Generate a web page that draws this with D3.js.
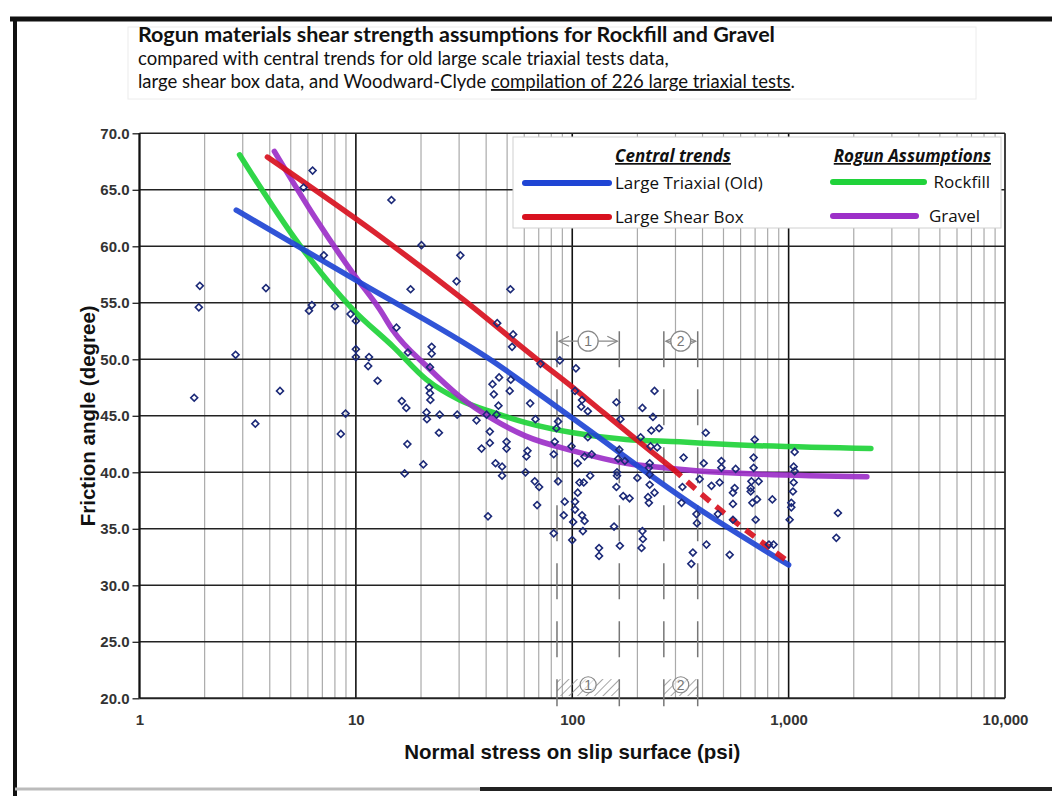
<!DOCTYPE html>
<html>
<head>
<meta charset="utf-8">
<title>Rogun shear strength</title>
<script src="https://d3js.org/d3.v7.min.js"></script>
<style>
  body { margin: 0; background: #fff; }
  svg { display: block; }
  .axis-title { font-family: "Liberation Sans", Arial, sans-serif; font-weight: bold; font-size: 20.5px; fill: #111; }
  .title { font-family: Lato, "Open Sans", sans-serif; fill: #111; }
  .legend-text { font-family: "Open Sans", sans-serif; font-size: 17px; fill: #111; }
  .legend-head { font-family: "Open Sans", sans-serif; font-size: 17px; font-weight: bold; font-style: italic; fill: #111; text-decoration: underline; }
  .zone { font-family: "Liberation Sans", Arial, sans-serif; font-size: 14px; fill: #777; }
</style>
</head>
<body>
<div id="chart"></div>
<script>

var xTicks = [1, 10, 100, 1000, 10000];
var yTicks = [20, 25, 30, 35, 40, 45, 50, 55, 60, 65, 70];

// central trends and assumed envelopes [normal stress psi, friction angle deg]
var triaxialOld = [[2.8, 63.2], [10, 57.0], [41.6, 50.0], [100, 44.8], [349, 37.3], [1000, 31.8]];
var shearBox = [[3.9, 67.9], [12.9, 60.9], [31.3, 55.3], [70.8, 49.8], [100.8, 47.5], [139, 45.3], [198, 42.9], [292, 40.3]];
var shearBoxExtended = [[292, 40.3], [388, 38.2], [1010, 32.0]];
var rockfill = [[2.9, 68.1], [5.5, 60.1], [9.7, 54.4], [14.9, 51.1], [21.2, 48.2], [30.2, 46.4], [43, 45.3], [61, 44.4],
  [101, 43.5], [177, 42.9], [313, 42.7], [478, 42.5], [2400, 42.1]];
var gravel = [[4.2, 68.4], [6.6, 62.3], [9.7, 57.6], [12.9, 54.4], [14.9, 52.5], [21.2, 49.4], [30.2, 46.7], [43, 44.7],
  [61, 43.2], [101, 41.9], [177, 40.8], [303, 40.3], [478, 40.0], [2300, 39.6]];

// large triaxial test results
var tests = [
  [1.90, 56.5], [1.88, 54.6], [1.79, 46.6], [2.78, 50.4], [3.84, 56.3], [4.46, 47.2], [6.31, 66.7], [5.73, 65.2], [7.11, 59.2], [6.07, 54.3],
  [6.26, 54.8], [8.00, 54.7], [9.45, 54.0], [10.0, 53.4], [10.0, 50.9], [10.0, 50.2], [11.5, 50.2], [11.4, 49.4], [12.6, 48.1], [8.96, 45.2],
  [3.43, 44.3], [8.52, 43.4], [14.6, 64.1], [20.1, 60.1], [30.4, 59.2], [29.2, 56.9], [17.9, 56.2], [51.8, 56.2], [15.4, 52.8], [17.4, 50.6],
  [22.4, 51.1], [22.4, 50.5], [22.0, 49.3], [45.0, 53.2], [53.3, 52.2], [52.7, 51.1], [71.3, 49.6], [21.8, 47.5], [22.0, 47.0], [22.1, 46.4],
  [16.3, 46.3], [17.1, 45.7], [21.2, 45.3], [21.3, 44.7], [24.4, 45.1], [29.4, 45.1], [24.2, 43.5], [36.1, 44.6], [40.2, 45.1], [44.7, 45.1],
  [42.8, 47.8], [43.4, 46.9], [45.9, 48.4], [52.0, 48.2], [51.4, 47.2], [45.6, 45.9], [63.9, 46.1], [67.6, 44.7], [41.6, 43.6], [41.6, 42.6],
  [38.1, 42.1], [49.7, 42.7], [49.7, 42.1], [62.1, 41.9], [61.4, 41.4], [17.3, 42.5], [20.5, 40.7], [16.8, 39.9], [44.2, 40.8], [47.4, 40.5],
  [47.4, 39.7], [60.8, 40.0], [67.1, 39.2], [70.3, 38.7], [68.8, 37.1], [40.8, 36.1], [87.6, 49.9], [104, 49.2], [103, 47.2], [111, 46.4],
  [110, 45.8], [118, 45.4], [86.0, 44.5], [84.5, 43.9], [83.0, 42.7], [82.1, 41.6], [99.2, 42.3], [118, 43.1], [123, 41.6], [114, 41.4],
  [106, 40.8], [160, 46.2], [167, 44.7], [165, 42.0], [163, 41.2], [175, 41.0], [161, 40.0], [161, 39.7], [160, 38.7], [172, 37.9],
  [184, 37.7], [200, 39.5], [211, 45.7], [207, 43.1], [240, 47.2], [236, 44.9], [232, 43.7], [252, 43.9], [230, 42.3], [247, 42.2],
  [228, 40.8], [226, 40.4], [228, 39.8], [228, 38.9], [240, 38.2], [224, 37.8], [226, 37.3], [327, 41.3], [323, 38.7], [320, 37.3],
  [86.0, 39.2], [108, 39.1], [113, 39.1], [121, 39.7], [106, 38.2], [92.3, 37.4], [103, 37.4], [103, 36.7], [91.3, 36.2], [111, 36.2],
  [114, 35.7], [101, 35.6], [112, 34.8], [82.1, 34.6], [100, 34.0], [156, 35.2], [166, 33.5], [133, 33.3], [133, 32.6], [211, 34.8],
  [212, 34.1], [209, 33.3], [414, 43.5], [697, 42.9], [1066, 41.8], [405, 40.8], [489, 41.0], [489, 40.4], [569, 40.3], [689, 41.3],
  [689, 40.4], [1055, 40.5], [1066, 40.1], [388, 39.4], [480, 39.1], [673, 39.2], [727, 39.2], [1055, 39.1], [440, 38.8], [563, 38.6],
  [553, 38.2], [668, 38.6], [668, 38.3], [1047, 38.3], [553, 37.2], [714, 37.6], [680, 37.3], [841, 37.6], [1029, 37.3], [1029, 36.9],
  [375, 36.3], [377, 35.5], [471, 36.3], [553, 35.8], [704, 35.8], [1011, 35.8], [1690, 36.4], [417, 33.6], [361, 32.9], [355, 31.9],
  [534, 32.7], [811, 33.6], [852, 33.6], [1661, 34.2]
];

// stress ranges marked on the chart
var zones = [{label: "1", from: 85, to: 165}, {label: "2", from: 265, to: 380}];
var zoneBracketAngle = 51.6;

var width = 1052, height = 796;
var margin = {top: 133.3, right: 47, bottom: 97, left: 139.5};

var svg = d3.select("#chart").append("svg")
  .attr("width", width)
  .attr("height", height);

var defs = svg.append("defs");
var hatch = defs.append("pattern")
  .attr("id", "hatch")
  .attr("width", 6).attr("height", 6)
  .attr("patternUnits", "userSpaceOnUse")
  .attr("patternTransform", "rotate(45)");
hatch.append("line")
  .attr("x1", 0).attr("y1", 0).attr("x2", 0).attr("y2", 6)
  .attr("stroke", "#888").attr("stroke-width", 1.5);

// title block
svg.append("rect").attr("x", 128).attr("y", 27).attr("width", 848).attr("height", 72)
  .attr("fill", "#fff").attr("stroke", "#ececec");
svg.append("text").attr("class", "title").attr("x", 138).attr("y", 42)
  .style("font-size", "21.5px").style("font-weight", "bold")
  .text("Rogun materials shear strength assumptions for Rockfill and Gravel");
svg.append("text").attr("class", "title").attr("x", 138).attr("y", 65)
  .style("font-size", "18.5px")
  .text("compared with central trends for old large scale triaxial tests data,");
var t3 = svg.append("text").attr("class", "title").attr("x", 138).attr("y", 88)
  .style("font-size", "18.5px");
t3.append("tspan").text("large shear box data, and Woodward-Clyde ");
t3.append("tspan").style("text-decoration", "underline").text("compilation of 226 large triaxial tests");
t3.append("tspan").text(".");

// page frame
svg.append("line").attr("x1", 10).attr("x2", width).attr("y1", 19).attr("y2", 19)
  .attr("stroke", "#111").attr("stroke-width", 5);
svg.append("line").attr("x1", 15).attr("x2", 15).attr("y1", 17).attr("y2", height)
  .attr("stroke", "#111").attr("stroke-width", 4);
svg.append("line").attr("x1", 15).attr("x2", 480).attr("y1", 789).attr("y2", 789)
  .attr("stroke", "#bbb").attr("stroke-width", 3);
svg.append("line").attr("x1", 480).attr("x2", width).attr("y1", 789).attr("y2", 789)
  .attr("stroke", "#222").attr("stroke-width", 4);

var innerW = width - margin.left - margin.right;
var innerH = height - margin.top - margin.bottom - 0.7;

var x = d3.scaleLog().domain([1, 10000]).range([margin.left, margin.left + innerW]);
var y = d3.scaleLinear().domain([20, 70]).range([margin.top + innerH, margin.top]);

var grid = svg.append("g");

// vertical grid: decades dark, 2..9 light
grid.selectAll(".vgrid").data(x.ticks()).enter().append("line")
  .attr("x1", function (d) { return x(d); })
  .attr("x2", function (d) { return x(d); })
  .attr("y1", y(70))
  .attr("y2", y(20))
  .attr("stroke", function (d) { return Math.abs(Math.log10(d) % 1) < 1e-9 ? "#111" : "#aaa"; })
  .attr("stroke-width", function (d) { return Math.abs(Math.log10(d) % 1) < 1e-9 ? 1.6 : 1.2; });

grid.selectAll(".hgrid").data(yTicks).enter().append("line")
  .attr("x1", x(1))
  .attr("x2", x(10000))
  .attr("y1", function (d) { return y(d); })
  .attr("y2", function (d) { return y(d); })
  .attr("stroke", "#222")
  .attr("stroke-width", function (d) { return d === 20 ? 2 : 1.4; });

// zone markers
var zoneG = svg.append("g");
zones.forEach(function (z) {
  var x0 = x(z.from), x1 = x(z.to), yb = y(zoneBracketAngle);
  zoneG.append("rect")
    .attr("x", x0).attr("y", y(21.7))
    .attr("width", x1 - x0).attr("height", y(20.2) - y(21.7))
    .attr("fill", "url(#hatch)");
  [x0, x1].forEach(function (xx) {
    zoneG.append("line")
      .attr("x1", xx).attr("x2", xx).attr("y1", yb - 10).attr("y2", y(20) + 8)
      .attr("stroke", "#777").attr("stroke-width", 1.5)
      .attr("stroke-dasharray", "36,22");
  });
  var cx = (x0 + x1) / 2;
  zoneG.append("line").attr("x1", x0 + 2).attr("x2", x1 - 2).attr("y1", yb).attr("y2", yb)
    .attr("stroke", "#888").attr("stroke-width", 1.2);
  zoneG.append("path")
    .attr("d", "M" + (x0 + 12) + "," + (yb - 5) + "L" + (x0 + 2) + "," + yb + "L" + (x0 + 12) + "," + (yb + 5) +
      "M" + (x1 - 12) + "," + (yb - 5) + "L" + (x1 - 2) + "," + yb + "L" + (x1 - 12) + "," + (yb + 5))
    .attr("fill", "none").attr("stroke", "#888").attr("stroke-width", 1.2);
  zoneG.append("circle").attr("cx", cx).attr("cy", yb).attr("r", 10)
    .attr("fill", "#fff").attr("stroke", "#888").attr("stroke-width", 1.3);
  zoneG.append("text").attr("class", "zone").attr("x", cx).attr("y", yb + 5)
    .attr("text-anchor", "middle").text(z.label);
  var cb = y(21.2);
  zoneG.append("circle").attr("cx", cx).attr("cy", cb).attr("r", 8)
    .attr("fill", "#fff").attr("fill-opacity", 0.6).attr("stroke", "#888").attr("stroke-width", 1.2);
  zoneG.append("text").attr("class", "zone").attr("x", cx).attr("y", cb + 5)
    .attr("text-anchor", "middle").text(z.label);
});

function styleTicks(g) {
  g.select(".domain").remove();
  g.attr("font-family", "'Liberation Sans', Arial, sans-serif").attr("font-size", 15);
  g.selectAll(".tick text").attr("font-weight", "bold").attr("fill", "#333");
  g.selectAll(".tick line").attr("stroke", "#222").attr("stroke-width", 1.3);
}

// axes
svg.append("g")
  .attr("transform", "translate(" + margin.left + ",0)")
  .call(d3.axisLeft(y).tickValues(yTicks).tickFormat(d3.format(".1f")).tickSize(7).tickPadding(3))
  .call(styleTicks);

svg.append("g")
  .attr("transform", "translate(0," + y(20) + ")")
  .call(d3.axisBottom(x).tickValues(xTicks).tickFormat(d3.format(",")).tickSize(0).tickPadding(16))
  .call(styleTicks);

svg.append("line").attr("x1", x(1)).attr("x2", x(1)).attr("y1", y(70)).attr("y2", y(20))
  .attr("stroke", "#111").attr("stroke-width", 2);

svg.append("text").attr("class", "axis-title")
  .attr("transform", "translate(95," + y(45) + ") rotate(-90)")
  .attr("text-anchor", "middle")
  .text("Friction angle (degree)");
svg.append("text").attr("class", "axis-title")
  .attr("x", x(100)).attr("y", 759)
  .attr("text-anchor", "middle")
  .text("Normal stress on slip surface (psi)");

// legend
var lg = svg.append("g");
lg.append("rect").attr("x", 513).attr("y", 137).attr("width", 488).attr("height", 91)
  .attr("fill", "#fff").attr("stroke", "#d0d0d0");
lg.append("text").attr("class", "legend-head").attr("x", 673).attr("y", 162)
  .attr("text-anchor", "middle").text("Central trends");
lg.append("text").attr("class", "legend-head").attr("x", 991).attr("y", 162)
  .attr("text-anchor", "end").text("Rogun Assumptions");

var legendItems = [
  {name: "Large Triaxial (Old)", color: "#1f45d4", x1: 525, x2: 609, tx: 615, anchor: "start", y: 183},
  {name: "Large Shear Box", color: "#d8111f", x1: 525, x2: 609, tx: 615, anchor: "start", y: 217},
  {name: "Rockfill", color: "#20d23a", x1: 833, x2: 924, tx: 990, anchor: "end", y: 182},
  {name: "Gravel", color: "#9c30c8", x1: 833, x2: 916, tx: 980, anchor: "end", y: 216}
];
legendItems.forEach(function (d) {
  lg.append("line").attr("x1", d.x1).attr("x2", d.x2).attr("y1", d.y).attr("y2", d.y)
    .attr("stroke", d.color).attr("stroke-width", 6).attr("stroke-linecap", "round");
  lg.append("text").attr("class", "legend-text").attr("x", d.tx).attr("y", d.y + 6)
    .attr("text-anchor", d.anchor).text(d.name);
});

// trend lines
var line = d3.line()
  .x(function (d) { return x(d[0]); })
  .y(function (d) { return y(d[1]); })
  .curve(d3.curveMonotoneX);

var series = [
  {data: rockfill, color: "#20d23a"},
  {data: gravel, color: "#9c30c8"},
  {data: triaxialOld, color: "#1f45d4"},
  {data: shearBox, color: "#d8111f"},
  {data: shearBoxExtended, color: "#d8111f", dash: "11,8"}
];
svg.append("g").selectAll("path").data(series).enter().append("path")
  .attr("d", function (d) { return line(d.data); })
  .attr("fill", "none")
  .attr("stroke", function (d) { return d.color; })
  .attr("stroke-width", 5.5)
  .attr("stroke-linecap", function (d) { return d.dash ? "butt" : "round"; })
  .attr("stroke-dasharray", function (d) { return d.dash || null; })
  .attr("opacity", 0.92);

// test points
var diamond = d3.symbol().type(d3.symbolSquare).size(24);
svg.append("g").selectAll("path").data(tests).enter().append("path")
  .attr("d", diamond)
  .attr("transform", function (d) { return "translate(" + x(d[0]) + "," + y(d[1]) + ") rotate(45)"; })
  .attr("fill", "none")
  .attr("stroke", "#1c2a78")
  .attr("stroke-width", 1.6);

</script>
</body>
</html>
